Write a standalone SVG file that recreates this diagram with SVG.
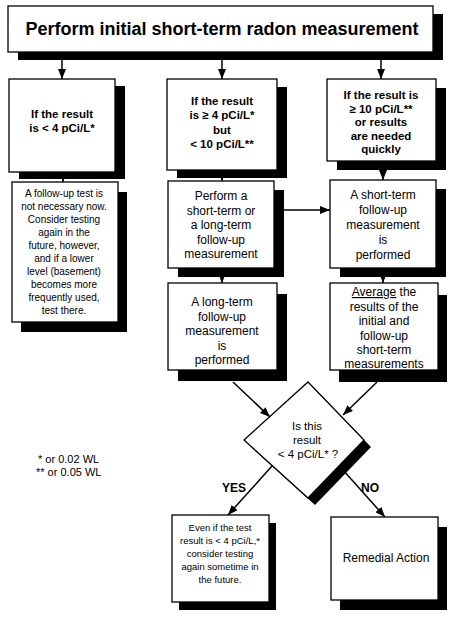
<svg xmlns="http://www.w3.org/2000/svg" width="455" height="620" viewBox="0 0 455 620">
<defs>
<style>
.bx{fill:#fff;stroke:#000;stroke-width:1.3}
.sh{fill:#000}
.hd{font-family:"Liberation Sans",Arial,sans-serif;font-weight:bold;font-size:11.5px;text-anchor:middle;fill:#000}
.tx{font-family:"Liberation Sans",Arial,sans-serif;font-size:12px;text-anchor:middle;fill:#000}
.sm{font-family:"Liberation Sans",Arial,sans-serif;font-size:10px;text-anchor:middle;fill:#000}
.ys{font-family:"Liberation Sans",Arial,sans-serif;font-size:9.5px;text-anchor:middle;fill:#000}
.cn{stroke:#000;stroke-width:1.5;fill:none;marker-end:url(#ah)}
</style>
<marker id="ah" viewBox="0 0 10 8" refX="10" refY="4" markerWidth="10" markerHeight="8" orient="auto" markerUnits="userSpaceOnUse"><path d="M0,0 L10,4 L0,8 z" fill="#000"/></marker>
</defs>
<rect width="455" height="620" fill="#fff"/>

<g id="title">
<rect class="sh" x="18" y="14" width="425" height="46"/>
<rect class="bx" x="8" y="6" width="425" height="46"/>
<text x="222" y="35" style="font-family:'Liberation Sans',Arial,sans-serif;font-weight:bold;font-size:18px;text-anchor:middle">Perform initial short-term radon measurement</text>
</g>

<g id="a1">
<rect class="sh" x="19" y="86" width="106" height="93"/>
<rect class="bx" x="9" y="79" width="106" height="93"/>
<text class="hd" x="62" y="118">If the result</text>
<text class="hd" x="62" y="132">is &lt; 4 pCi/L*</text>
</g>

<g id="b1">
<rect class="sh" x="177" y="87" width="110" height="91"/>
<rect class="bx" x="167" y="79" width="110" height="91"/>
<text class="hd" x="222" y="105">If the result</text>
<text class="hd" x="222" y="119">is ≥ 4 pCi/L*</text>
<text class="hd" x="222" y="134">but</text>
<text class="hd" x="222" y="148">&lt; 10 pCi/L**</text>
</g>

<g id="c1">
<rect class="sh" x="337" y="88" width="109" height="82"/>
<rect class="bx" x="327" y="79" width="109" height="82"/>
<text class="hd" x="381" y="99">If the result is</text>
<text class="hd" x="381" y="112.5">≥ 10 pCi/L**</text>
<text class="hd" x="381" y="126">or results</text>
<text class="hd" x="381" y="139.5">are needed</text>
<text class="hd" x="381" y="153">quickly</text>
</g>

<g id="a2">
<rect class="sh" x="21" y="192" width="106" height="140"/>
<rect class="bx" x="12" y="182" width="106" height="140"/>
<text class="sm" x="64" y="197">A follow-up test is</text>
<text class="sm" x="64" y="210">not necessary now.</text>
<text class="sm" x="64" y="223">Consider testing</text>
<text class="sm" x="64" y="236">again in the</text>
<text class="sm" x="64" y="249">future, however,</text>
<text class="sm" x="64" y="262">and if a lower</text>
<text class="sm" x="64" y="275">level (basement)</text>
<text class="sm" x="64" y="288">becomes more</text>
<text class="sm" x="64" y="301">frequently used,</text>
<text class="sm" x="64" y="314">test there.</text>
</g>

<g id="b2">
<rect class="sh" x="178" y="190" width="106" height="87"/>
<rect class="bx" x="168" y="181" width="106" height="87"/>
<text class="tx" x="221" y="200">Perform a</text>
<text class="tx" x="221" y="214.5">short-term or</text>
<text class="tx" x="221" y="229">a long-term</text>
<text class="tx" x="221" y="243.5">follow-up</text>
<text class="tx" x="221" y="258">measurement</text>
</g>

<g id="c2">
<rect class="sh" x="340" y="189" width="106" height="88"/>
<rect class="bx" x="330" y="180" width="106" height="88"/>
<text class="tx" x="383" y="199">A short-term</text>
<text class="tx" x="383" y="214">follow-up</text>
<text class="tx" x="383" y="229">measurement</text>
<text class="tx" x="383" y="244">is</text>
<text class="tx" x="383" y="259">performed</text>
</g>

<g id="b3">
<rect class="sh" x="178" y="294" width="109" height="87"/>
<rect class="bx" x="168" y="283" width="109" height="87"/>
<text class="tx" x="222" y="306">A long-term</text>
<text class="tx" x="222" y="320.5">follow-up</text>
<text class="tx" x="222" y="335">measurement</text>
<text class="tx" x="222" y="349.5">is</text>
<text class="tx" x="222" y="364">performed</text>
</g>

<g id="c3">
<rect class="sh" x="339" y="295" width="108" height="87"/>
<rect class="bx" x="330" y="283" width="108" height="87"/>
<text class="tx" x="384" y="296"><tspan text-decoration="underline">Average</tspan> the</text>
<text class="tx" x="384" y="310.5">results of the</text>
<text class="tx" x="384" y="325">initial and</text>
<text class="tx" x="384" y="339.5">follow-up</text>
<text class="tx" x="384" y="354">short-term</text>
<text class="tx" x="384" y="368">measurements</text>
</g>

<g id="decision">
<polygon class="sh" points="315,389 371,447 315,505 251,447"/>
<polygon class="bx" points="308,382 364,440 308,498 244,440"/>
<text class="tx" x="307" y="430" style="font-size:11.5px">Is this</text>
<text class="tx" x="307" y="444" style="font-size:11.5px">result</text>
<text class="tx" x="308" y="458" style="font-size:11.5px">&lt; 4 pCi/L* ?</text>
</g>

<g id="yesbox">
<rect class="sh" x="179" y="523" width="97" height="87"/>
<rect class="bx" x="172" y="515" width="97" height="87"/>
<text class="ys" x="220" y="531">Even if the test</text>
<text class="ys" x="220" y="544">result is &lt; 4 pCi/L,*</text>
<text class="ys" x="220" y="557">consider testing</text>
<text class="ys" x="220" y="570">again sometime in</text>
<text class="ys" x="220" y="583">the future.</text>
</g>

<g id="nobox">
<rect class="sh" x="340" y="527" width="107" height="83"/>
<rect class="bx" x="331" y="517" width="107" height="83"/>
<text class="tx" x="386" y="562">Remedial Action</text>
</g>

<g id="footnote">
<text x="38" y="463" style="font-family:'Liberation Sans',Arial,sans-serif;font-size:11px">* or 0.02 WL</text>
<text x="36" y="476" style="font-family:'Liberation Sans',Arial,sans-serif;font-size:11px">** or 0.05 WL</text>
</g>

<g id="connectors">
<line class="cn" x1="62" y1="60" x2="62" y2="79"/>
<line class="cn" x1="222" y1="60" x2="222" y2="79"/>
<line class="cn" x1="381" y1="60" x2="381" y2="79"/>
<line class="cn" x1="63" y1="179" x2="63" y2="182"/>
<line class="cn" x1="222" y1="178" x2="222" y2="181"/>
<line class="cn" x1="383" y1="170" x2="383" y2="180"/>
<line class="cn" x1="284" y1="210" x2="330" y2="210"/>
<line class="cn" x1="222" y1="277" x2="222" y2="283"/>
<line class="cn" x1="383" y1="277" x2="383" y2="283"/>
<line class="cn" x1="233" y1="382" x2="270" y2="417"/>
<line class="cn" x1="377" y1="382" x2="343" y2="415"/>
<line class="cn" x1="272" y1="466" x2="228" y2="515"/>
<line class="cn" x1="343" y1="470" x2="385" y2="517"/>
</g>

<g id="labels">
<text x="234" y="492" style="font-family:'Liberation Sans',Arial,sans-serif;font-weight:bold;font-size:12px;text-anchor:middle">YES</text>
<text x="370" y="492" style="font-family:'Liberation Sans',Arial,sans-serif;font-weight:bold;font-size:12px;text-anchor:middle">NO</text>
</g>
</svg>
